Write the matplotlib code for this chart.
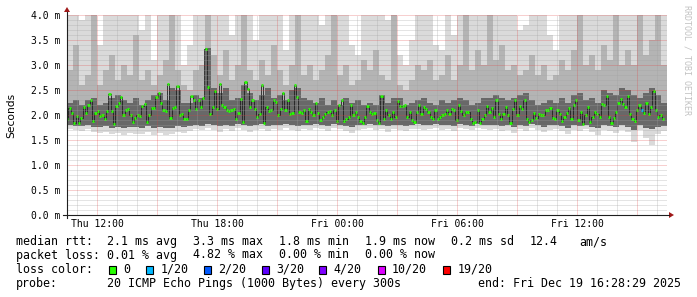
import numpy as np
import matplotlib
matplotlib.use("Agg")
import matplotlib.pyplot as plt
from matplotlib.patches import Rectangle, Polygon

# ---- data (ms) --------------------------------------------------------------
# time window in hours since Thu 00:00
t_start, t_end = 10.5, 40.5

# median rtt samples, Thu 10:31 .. Fri 16:18
median_rtt = [
    1.93, 2.15, 2.05, 1.85, 1.98, 1.85, 1.95, 2.17, 2.05, 2.20, 2.30, 1.88, 2.05, 2.08, 1.98,
    2.00, 1.92, 2.08, 2.42, 2.08, 1.83, 2.18, 2.25, 2.37, 2.00, 2.10, 2.13, 2.00, 1.87, 1.95,
    2.00, 1.99, 2.18, 2.22, 1.87, 2.00, 2.15, 2.15, 2.37, 2.43, 2.25, 2.10, 2.08, 2.62, 1.95,
    2.15, 2.17, 2.58, 2.00, 2.03, 1.92, 1.92, 2.10, 2.38,
    2.31, 2.13, 2.30, 2.17, 2.35, 3.33, 2.57, 2.02, 2.17, 2.47, 2.13, 2.62, 2.20, 2.17, 2.10,
    2.08, 2.10, 2.13, 1.93, 2.05, 2.33, 1.87, 2.67, 2.53, 2.17, 2.30, 2.12, 1.97, 2.02, 2.61,
    1.85, 2.17, 2.09, 2.10, 2.31, 2.27, 2.00, 2.12, 2.43, 2.10, 2.31, 2.02, 2.05, 2.60, 2.37,
    2.07, 2.05, 2.10, 1.89, 2.13, 2.07, 2.00, 2.25, 2.05, 1.90, 1.97, 2.02, 2.07, 2.09,
    2.01, 2.10, 1.88, 2.21, 2.30, 1.88, 1.92, 1.97, 2.21, 2.01, 2.07, 1.97, 1.88, 1.85, 1.97,
    2.19, 2.07, 2.03, 2.05, 1.90, 1.85, 2.39, 1.93, 2.10, 2.01, 1.92, 2.07, 1.97, 2.28, 2.19,
    2.19, 2.21, 1.97, 2.07, 1.90, 1.87, 2.07, 2.21, 2.03, 2.17, 2.12, 2.07, 1.97, 1.93, 2.10,
    1.93, 1.97, 2.00, 2.03, 2.10, 2.03, 2.12, 2.10, 1.90, 2.21, 2.08, 2.01, 2.07, 2.07, 1.93,
    1.85, 1.87, 2.10, 1.85, 1.92, 2.01, 2.19, 2.07, 2.15,
    1.97, 2.30, 2.03, 1.93, 2.03, 2.17, 2.00, 1.85, 2.13, 2.30, 2.01, 2.19, 2.12, 2.30, 1.92,
    1.87, 1.90, 2.05, 1.95, 2.03, 2.00, 2.01, 2.10, 2.10, 2.15, 1.95, 1.92, 2.10, 2.03, 1.88,
    1.97, 2.05, 2.15, 1.93, 2.21, 2.30, 1.90, 2.07, 1.83, 2.00, 2.17, 1.87, 1.97, 2.07, 2.03,
    1.97, 2.23, 2.21, 2.39, 1.97, 1.85, 1.95, 2.07, 2.25, 2.33, 2.23, 2.17, 2.39, 2.03, 1.92,
    1.88, 2.10, 2.21, 2.11, 2.05, 2.25, 2.03, 2.17, 2.48, 2.10, 1.97, 2.01, 1.93,
]
med_first, med_last = 10.515, 40.3

# samples with packet loss (index into median_rtt, lost pings out of 20)
loss_idx = [245]
loss_pings = [1]

# smoke, 18 minute columns: outer (light) band, middle band, dark core
smoke_lo = [
    1.72, 1.70, 1.68, 1.72, 1.66, 1.64, 1.66, 1.62, 1.64, 1.60,
    1.65, 1.62, 1.63, 1.66, 1.61, 1.64, 1.60, 1.62, 1.66, 1.64,
    1.68, 1.72, 1.70, 1.74, 1.70, 1.67, 1.72, 1.69, 1.74, 1.70,
    1.66, 1.70, 1.73, 1.68, 1.72, 1.70, 1.74, 1.71, 1.68, 1.72,
    1.70, 1.74, 1.72, 1.68, 1.74, 1.72, 1.68, 1.64, 1.70, 1.72,
    1.74, 1.70, 1.72, 1.66, 1.72, 1.70, 1.68, 1.72, 1.73, 1.70,
    1.72, 1.74, 1.70, 1.72, 1.68, 1.74, 1.72, 1.70, 1.74, 1.72,
    1.70, 1.72, 1.68, 1.70, 1.64, 1.72, 1.68, 1.74, 1.70, 1.66,
    1.70, 1.72, 1.68, 1.62, 1.70, 1.68, 1.72, 1.66, 1.60, 1.70,
    1.68, 1.64, 1.70, 1.66, 1.46, 1.70, 1.55, 1.40, 1.62, 1.68,
]
smoke_hi = [
    4.3, 4.3, 3.9, 4.3, 4.3, 3.4, 4.3, 4.3, 4.3, 4.3,
    4.3, 4.3, 3.7, 4.3, 3.1, 4.3, 4.3, 4.3, 4.3, 3.0,
    3.4, 4.3, 4.3, 4.3, 4.3, 4.3, 4.3, 3.6, 4.3, 4.3,
    4.3, 3.5, 4.3, 4.3, 4.3, 4.3, 3.3, 4.3, 4.3, 4.3,
    4.3, 4.3, 3.8, 4.3, 4.3, 4.3, 4.3, 3.4, 3.2, 4.3,
    4.3, 4.3, 4.3, 3.9, 4.3, 3.2, 3.0, 3.5, 4.3, 4.3,
    4.3, 3.4, 3.3, 4.3, 3.6, 4.3, 4.3, 4.3, 4.3, 4.3,
    4.3, 4.3, 4.3, 4.3, 4.3, 3.7, 3.8, 4.3, 4.3, 4.3,
    3.6, 3.3, 4.3, 4.3, 4.3, 4.3, 4.3, 4.3, 4.3, 4.3,
    4.3, 4.3, 4.3, 4.3, 4.3, 4.3, 4.3, 4.3, 4.3, 4.3,
]
smoke_mid_lo = [
    1.80, 1.78, 1.78, 1.80, 1.77, 1.76, 1.78, 1.75, 1.77, 1.74,
    1.77, 1.76, 1.75, 1.78, 1.74, 1.76, 1.74, 1.75, 1.78, 1.77,
    1.79, 1.80, 1.79, 1.82, 1.80, 1.78, 1.81, 1.79, 1.82, 1.80,
    1.78, 1.80, 1.82, 1.79, 1.81, 1.80, 1.82, 1.80, 1.78, 1.81,
    1.80, 1.82, 1.81, 1.78, 1.82, 1.80, 1.78, 1.76, 1.80, 1.81,
    1.82, 1.80, 1.81, 1.78, 1.81, 1.80, 1.78, 1.81, 1.82, 1.80,
    1.81, 1.82, 1.80, 1.81, 1.78, 1.82, 1.81, 1.79, 1.82, 1.80,
    1.80, 1.81, 1.78, 1.80, 1.76, 1.81, 1.78, 1.82, 1.80, 1.77,
    1.80, 1.81, 1.78, 1.75, 1.80, 1.78, 1.81, 1.77, 1.74, 1.80,
    1.78, 1.76, 1.80, 1.77, 1.70, 1.80, 1.74, 1.72, 1.76, 1.78,
]
smoke_mid_hi = [
    2.9, 3.4, 2.6, 2.8, 4.3, 2.6, 2.9, 3.2, 2.7, 3.0,
    2.8, 3.6, 2.7, 2.9, 2.6, 2.8, 3.1, 4.3, 2.9, 2.6,
    2.5, 2.9, 3.0, 4.3, 3.2, 2.8, 3.3, 2.7, 3.0, 4.3,
    2.9, 2.7, 3.1, 2.8, 3.4, 2.9, 2.6, 3.0, 4.3, 2.8,
    3.0, 2.7, 2.9, 3.2, 4.3, 2.8, 3.0, 2.6, 2.7, 3.1,
    2.9, 3.3, 2.8, 2.7, 4.3, 2.6, 2.5, 2.7, 3.0, 2.9,
    3.1, 2.7, 2.8, 3.2, 2.7, 3.0, 4.3, 2.9, 3.3, 3.0,
    4.3, 3.1, 3.4, 2.9, 3.0, 2.8, 2.9, 3.2, 2.8, 3.0,
    2.7, 2.8, 3.1, 2.9, 3.3, 4.3, 3.0, 3.2, 2.9, 3.4,
    3.1, 4.3, 3.0, 3.3, 3.0, 4.3, 3.2, 3.5, 4.3, 3.0,
]
smoke_core_hi = [
    2.25, 2.30, 2.20, 2.30, 2.35, 2.20, 2.25, 2.35, 2.40, 2.30,
    2.25, 2.35, 2.20, 2.30, 2.40, 2.45, 2.30, 2.55, 2.50, 2.25,
    2.25, 2.40, 2.35, 3.35, 2.55, 2.45, 2.55, 2.30, 2.35, 2.60,
    2.45, 2.30, 2.40, 2.55, 2.35, 2.40, 2.30, 2.50, 2.55, 2.35,
    2.30, 2.25, 2.35, 2.20, 2.30, 2.20, 2.35, 2.25, 2.30, 2.20,
    2.25, 2.20, 2.40, 2.25, 2.35, 2.35, 2.20, 2.25, 2.30, 2.35,
    2.25, 2.20, 2.30, 2.25, 2.30, 2.35, 2.30, 2.20, 2.25, 2.35,
    2.35, 2.40, 2.35, 2.30, 2.35, 2.40, 2.45, 2.30, 2.20, 2.25,
    2.30, 2.25, 2.35, 2.25, 2.40, 2.45, 2.30, 2.35, 2.25, 2.50,
    2.45, 2.40, 2.55, 2.50, 2.40, 2.35, 2.45, 2.55, 2.40, 2.25,
]

x_ticks = [12, 18, 24, 30, 36]
x_labels = ["Thu 12:00", "Thu 18:00", "Fri 00:00", "Fri 06:00", "Fri 12:00"]

loss_legend = ["0", "1/20", "2/20", "3/20", "4/20", "10/20", "19/20"]
loss_colors = ["#26ff00", "#00b8ff", "#0059ff", "#5e00ff", "#7e00ff", "#dd00ff", "#ff0000"]
loss_steps = [0, 1, 2, 3, 4, 10, 19]

W, H = 697, 297
MONO = "DejaVu Sans Mono"


def loss_color(n):
    col = loss_colors[0]
    for step, c in zip(loss_steps, loss_colors):
        if n >= step:
            col = c
    return col


fig = plt.figure(figsize=(W / 100, H / 100), dpi=100)
fig.patch.set_facecolor("white")
ax = fig.add_axes([67 / W, 1 - 215 / H, 600 / W, 200 / H])
ax.set_xlim(t_start, t_end)
ax.set_ylim(0, 4.0)
for s in ax.spines.values():
    s.set_visible(False)

# smoke
edges = np.linspace(t_start, t_end, len(smoke_lo) + 1)


def band(lo, hi, color):
    ax.fill_between(edges, np.append(lo, lo[-1]), np.append(hi, hi[-1]),
                    step="post", color=color, lw=0, zorder=2)


band(smoke_lo, smoke_hi, "#dadada")
band(smoke_mid_lo, smoke_mid_hi, "#b4b4b4")
band(smoke_mid_lo, smoke_core_hi, "#686868")

# median line
t_med = np.linspace(med_first, med_last, len(median_rtt))
med = np.array(median_rtt)
ax.step(t_med, med, where="mid", color="#202020", lw=0.6, zorder=3)
cols = [loss_colors[0]] * len(med)
for i, n in zip(loss_idx, loss_pings):
    cols[i] = loss_color(n)
ax.hlines(med, t_med - 0.055, t_med + 0.055, colors=cols, lw=2.0, zorder=4)

# grid (drawn over the smoke, like rrdtool)
dot = (0, (1, 1))
gkw = dict(lw=0.72, ls=dot, zorder=5)
for v in np.arange(0.1, 4.0, 0.1):
    if abs(v * 2 - round(v * 2)) > 1e-6:
        ax.axhline(v, color="#a0a0a0", alpha=0.55, **gkw)
for h in range(11, 41):
    if h % 3:
        ax.axvline(h, color="#a0a0a0", alpha=0.55, **gkw)
for v in np.arange(0.5, 4.01, 0.5):
    ax.axhline(v, color="#e04040", alpha=0.5, **gkw)
for h in range(12, 41, 3):
    ax.axvline(h, color="#e04040", alpha=0.5, **gkw)

# ticks
ax.set_yticks(np.arange(0, 4.01, 0.5))
ax.set_yticklabels(["%.1f m" % v for v in np.arange(0, 4.01, 0.5)])
ax.set_xticks(x_ticks)
ax.set_xticklabels(x_labels)
ax.tick_params(length=0, labelsize=7.0, colors="black")
ax.tick_params(axis="y", pad=5.0)
ax.tick_params(axis="x", pad=3.2)
for lab in ax.get_xticklabels() + ax.get_yticklabels():
    lab.set_family(MONO)

# overlay in pixel coordinates for axes, arrows and legend
ov = fig.add_axes([0, 0, 1, 1])
ov.set_xlim(0, W)
ov.set_ylim(H, 0)
ov.axis("off")

ov.plot([67, 67], [218, 12], color="#1f1f1f", lw=0.8)
ov.plot([63, 669], [215, 215], color="#1f1f1f", lw=0.8)
ov.add_patch(Polygon([[64, 12], [70, 12], [67, 7]], closed=True, color="#a01818", lw=0))
ov.add_patch(Polygon([[669, 212], [669, 218], [674, 215]], closed=True, color="#a01818", lw=0))

fig.text(10.8 / W, 1 - 115 / H, "Seconds", rotation=90, ha="center", va="center",
         fontsize=7.7, family="DejaVu Sans")
ov.text(687, 5, "RRDTOOL / TOBI OETIKER", rotation=270, ha="center", va="top",
        fontsize=6.0, family=MONO, color="#c2c2c2")

fs = 8.4
rows = [
    (241.7, [("median rtt:", 16), ("2.1 ms avg", 107.3), ("3.3 ms max", 193.3),
             ("1.8 ms min", 279.3), ("1.9 ms now", 365.3), ("0.2 ms sd", 451.3),
             ("12.4", 529.7), ("am/s", 579.3)]),
    (255.0, [("packet loss:", 16), ("0.01 % avg", 107.3), ("4.82 % max", 193.3),
             ("0.00 % min", 279.3), ("0.00 % now", 365.3)]),
    (269.3, [("loss color:", 16)]),
    (283.3, [("probe:", 16), ("20 ICMP Echo Pings (1000 Bytes) every 300s", 107.3),
             ("end: Fri Dec 19 16:28:29 2025", 478)]),
]
for y, items in rows:
    for txt, x in items:
        ov.text(x, y, txt, ha="left", va="center", fontsize=fs, family=MONO)

box_x = [109, 146, 204, 261.7, 319.3, 377.7, 443]
for bx, lab, c in zip(box_x, loss_legend, loss_colors):
    ov.add_patch(Rectangle((bx, 265.5), 7, 8, facecolor=c, edgecolor="black", lw=0.8))
    ov.text(bx + 14.3, 269.3, lab, ha="left", va="center", fontsize=fs, family=MONO)

fig.savefig("out.png", dpi=100)
